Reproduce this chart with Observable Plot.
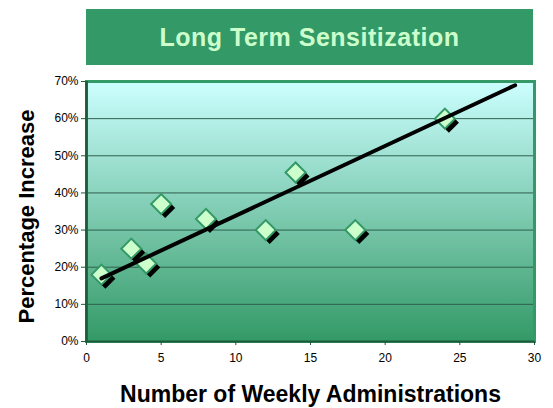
<!DOCTYPE html>
<html><head><meta charset="utf-8">
<script src="https://cdn.jsdelivr.net/npm/d3@7"></script>
<script src="https://cdn.jsdelivr.net/npm/@observablehq/plot@0.6"></script>
<style>
body{margin:0;background:#fff;font-family:"Liberation Sans",Arial,sans-serif;}
#wrap{position:relative;width:553px;height:408px;}
#title{position:absolute;left:86px;top:9px;width:447px;height:56px;background:#339966;color:#CCFFCC;font-weight:bold;font-size:25px;display:flex;align-items:center;justify-content:center;letter-spacing:0.5px;}
#chart{position:absolute;left:0;top:0;}
</style></head><body>
<div id="wrap"><div id="chart"></div><div id="title">Long Term Sensitization</div></div>
<script>
const titleText = "Long Term Sensitization";
const xLabel = "Number of Weekly Administrations";
const yLabel = "Percentage Increase";
const administrations = [1, 3, 4, 5, 8, 12, 14, 18, 24];
const increase = [0.18, 0.25, 0.21, 0.37, 0.33, 0.30, 0.455, 0.30, 0.60];
const trendX = [1, 28.7];
const trendY = [0.17, 0.69];
const yTicks = [0, 0.1, 0.2, 0.3, 0.4, 0.5, 0.6, 0.7];
const xTicks = [0, 5, 10, 15, 20, 25, 30];
const gridValues = [0.1, 0.2, 0.3, 0.4, 0.5, 0.6];

const points = administrations.map((x, i) => ({x, y: increase[i]}));
const trend = trendX.map((x, i) => ({x, y: trendY[i]}));

function gradientBg(index, scales, values, dims) {
  const g = d3.create("svg:g");
  const grad = g.append("defs").append("linearGradient").attr("id", "bgGrad")
    .attr("x1", 0).attr("y1", 0).attr("x2", 0).attr("y2", 1);
  grad.append("stop").attr("offset", "0%").attr("stop-color", "#CCFFFF");
  grad.append("stop").attr("offset", "100%").attr("stop-color", "#339966");
  const x0 = scales.x(0), x1 = scales.x(30), y0 = scales.y(0.7), y1 = scales.y(0);
  g.append("rect").attr("x", x0).attr("y", y0).attr("width", x1 - x0).attr("height", y1 - y0)
    .attr("fill", "url(#bgGrad)");
  return g.node();
}

const chart = Plot.plot({
  width: 553, height: 408,
  marginLeft: 86, marginRight: 19, marginTop: 81, marginBottom: 67,
  style: {fontFamily: "'Liberation Sans', Arial, sans-serif", background: "transparent"},
  x: {domain: [0, 30]},
  y: {domain: [0, 0.7]},
  marks: [
    gradientBg,
    Plot.ruleY(gridValues, {stroke: "#2f5f4c", strokeWidth: 1}),
    Plot.frame({stroke: "#339966", strokeWidth: 3}),
    Plot.ruleX([0], {stroke: "#1c5a3a", strokeWidth: 2.5}),
    Plot.ruleY([0], {stroke: "#1c5a3a", strokeWidth: 2}),
    Plot.axisY({ticks: yTicks, tickFormat: d3.format(".0%"), tickSize: 5, tickPadding: 3, fontSize: 12, label: null, stroke: "#1c5a3a", color: "#000"}),
    Plot.axisX({ticks: xTicks, tickSize: 4, tickPadding: 8, fontSize: 12, label: null, stroke: "#1c5a3a", color: "#000"}),
    Plot.dot(points, {x: "x", y: "y", symbol: "square", rotate: 45, r: 8, fill: "#000", dx: 4, dy: 4}),
    Plot.dot(points, {x: "x", y: "y", symbol: "square", rotate: 45, r: 8, fill: "#CCFFCC", stroke: "#339966", strokeWidth: 2}),
    Plot.line(trend, {x: "x", y: "y", stroke: "#000", strokeWidth: 4}),
    Plot.text([xLabel], {frameAnchor: "bottom", textAnchor: "middle", lineAnchor: "middle", dy: 53, dx: 0, fontSize: 23, fontWeight: "bold", fill: "#000"}),
    Plot.text([yLabel], {frameAnchor: "left", textAnchor: "middle", lineAnchor: "middle", rotate: -90, dx: -60, dy: 5, fontSize: 22, fontWeight: "bold", fill: "#000"})
  ]
});
document.getElementById("chart").appendChild(chart);
document.getElementById("title").textContent = titleText;
</script>
</body></html>
